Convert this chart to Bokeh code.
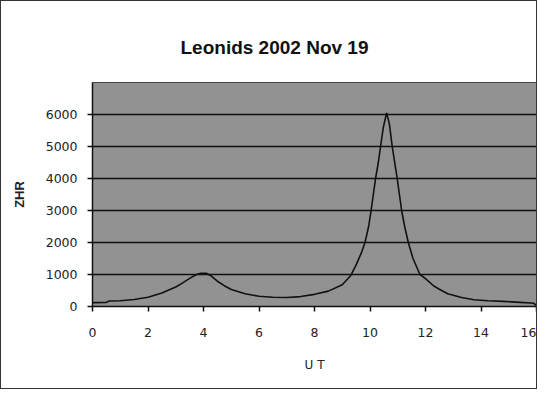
from bokeh.plotting import figure
from bokeh.models import Range1d, FixedTicker, Title
from bokeh.embed import file_html
from bokeh.resources import INLINE

# UT (hours) and ZHR values
ut = [0.0, 0.5, 0.6, 1.0, 1.5, 2.0, 2.5, 3.0, 3.25, 3.5, 3.75, 3.9, 4.1, 4.25,
      4.5, 4.75, 5.0, 5.5, 6.0, 6.5, 7.0, 7.5, 8.0, 8.5, 9.0, 9.3, 9.5, 9.7,
      9.82, 9.95, 10.04, 10.12, 10.2, 10.3, 10.38, 10.48, 10.6, 10.7, 10.8,
      10.9, 10.98, 11.06, 11.14, 11.25, 11.38, 11.55, 11.8, 12.0, 12.3, 12.5,
      12.8, 13.3, 13.75, 14.25, 14.8, 15.4, 15.8, 15.9, 16.0]
zhr = [120, 130, 170, 180, 220, 290, 420, 610, 740, 880, 1000, 1040, 1040, 970,
       790, 650, 530, 400, 320, 290, 280, 310, 380, 480, 680, 960, 1300, 1700,
       2000, 2500, 3000, 3500, 4000, 4500, 5000, 5600, 6050, 5700, 5000,
       4450, 4000, 3500, 3000, 2500, 2000, 1500, 1000, 870, 640, 540,
       400, 280, 210, 180, 160, 130, 110, 100, 30]

x_ticks = [0, 2, 4, 6, 8, 10, 12, 14, 16]
y_ticks = [0, 1000, 2000, 3000, 4000, 5000, 6000]

p = figure(width=537, height=389, output_backend="svg", toolbar_location=None,
           x_range=Range1d(0, 16), y_range=Range1d(0, 7000),
           min_border_left=91, min_border_right=2, min_border_top=81,
           min_border_bottom=84)
p.styles = {"border": "1px solid #333333"}

p.title = Title(text="Leonids 2002 Nov 19", align="left", offset=88,
                vertical_align="top",
                text_font="Liberation Sans", text_font_size="19px",
                text_font_style="bold", text_color="#111111", standoff=46)

p.background_fill_color = "#929292"
p.border_fill_color = "white"
p.outline_line_color = "#444444"
p.outline_line_width = 1

p.line(ut, zhr, line_color="#111111", line_width=1.6)

p.xaxis.ticker = FixedTicker(ticks=x_ticks)
p.yaxis.ticker = FixedTicker(ticks=y_ticks)
p.xgrid.visible = False
p.ygrid.grid_line_color = "#111111"
p.ygrid.grid_line_width = 1.5

for ax in (p.xaxis, p.yaxis):
    ax.axis_line_color = "#111111"
    ax.axis_line_width = 1.5
    ax.major_tick_line_color = "#111111"
    ax.major_tick_line_width = 1.5
    ax.major_tick_out = 5
    ax.major_tick_in = 0
    ax.minor_tick_out = 0
    ax.minor_tick_in = 0
    ax.major_label_text_font = "DejaVu Sans"
    ax.major_label_text_font_size = "12.5px"
    ax.major_label_text_color = "#222222"

p.xaxis.major_label_standoff = 16
p.yaxis.major_label_standoff = 10
p.xaxis.axis_label = "U T"
p.xaxis.axis_label_text_font = "DejaVu Sans"
p.xaxis.axis_label_text_font_size = "12px"
p.xaxis.axis_label_text_font_style = "normal"
p.xaxis.axis_label_text_color = "#222222"
p.xaxis.axis_label_standoff = 18
p.yaxis.axis_label = "ZHR"
p.yaxis.axis_label_text_font = "Liberation Sans"
p.yaxis.axis_label_text_font_size = "13px"
p.yaxis.axis_label_text_font_style = "bold"
p.yaxis.axis_label_text_color = "#222222"
p.yaxis.axis_label_standoff = 16

open("out.html", "w").write(file_html(p, INLINE))
